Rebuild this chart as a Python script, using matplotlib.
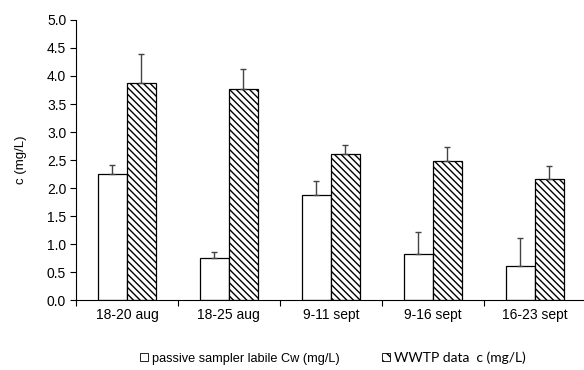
import numpy as np
import matplotlib
matplotlib.use('Agg')
import matplotlib.pyplot as plt
from matplotlib.patches import Patch

# Data
periods = ['18-20 aug', '18-25 aug', '9-11 sept', '9-16 sept', '16-23 sept']
passive = [2.25, 0.75, 1.88, 0.83, 0.60]
passive_err = [0.16, 0.11, 0.25, 0.38, 0.51]
wwtp = [3.88, 3.77, 2.61, 2.49, 2.16]
wwtp_err = [0.51, 0.36, 0.15, 0.24, 0.24]

plt.rcParams['font.family'] = ['Liberation Sans', 'DejaVu Sans']
plt.rcParams['hatch.linewidth'] = 1.0

fig = plt.figure(figsize=(5.84, 3.70), dpi=100)
ax = fig.add_axes([0.130, 0.189, 0.873, 0.757])

x = np.arange(len(periods))
w = 0.285
err_kw = dict(ecolor='#444444', elinewidth=1.0, capsize=2, capthick=1.0)

ax.bar(x - w / 2, passive, w, color='white', edgecolor='black', linewidth=0.9,
       yerr=[np.zeros(len(passive)), passive_err], error_kw=err_kw)
ax.bar(x + w / 2, wwtp, w, color='white', edgecolor='black', linewidth=0.9,
       hatch='\\' * 5, yerr=[np.zeros(len(wwtp)), wwtp_err], error_kw=err_kw)

ax.set_xlim(-0.5, 4.5)
ax.set_ylim(0, 5.0)
yt = np.arange(0, 5.01, 0.5)
ax.set_yticks(yt)
ax.set_yticklabels([f'{v:.1f}' for v in yt], fontsize=10)
ax.set_xticks(x)
ax.set_xticklabels(periods, fontsize=10)
ax.set_xticks(np.arange(-0.5, 4.6, 1.0), minor=True)
ax.tick_params(axis='x', which='major', length=0, pad=6)
ax.tick_params(axis='x', which='minor', length=4, width=0.8, direction='out')
ax.tick_params(axis='y', length=4, width=0.8, direction='out', pad=3)

for s in ['top', 'right']:
    ax.spines[s].set_visible(False)
for s in ['left', 'bottom']:
    ax.spines[s].set_linewidth(0.8)

ax.set_ylabel('c (mg/L)', fontsize=9.5, labelpad=14)

handles = [Patch(facecolor='white', edgecolor='black', linewidth=0.6),
           Patch(facecolor='white', edgecolor='black', linewidth=0.6, hatch='\\' * 3)]
leg = fig.legend(handles, ['passive sampler labile Cw (mg/L)', 'WWTP data  c (mg/L)'],
                 loc='center', bbox_to_anchor=(0.570, 0.032), ncol=2, frameon=False,
                 fontsize=9.2, handlelength=0.6, handleheight=0.6, handletextpad=0.3,
                 columnspacing=3.35)
leg.get_texts()[1].set_fontfamily('Lato')
leg.get_texts()[1].set_fontsize(10)

fig.savefig('out.png', dpi=100)
